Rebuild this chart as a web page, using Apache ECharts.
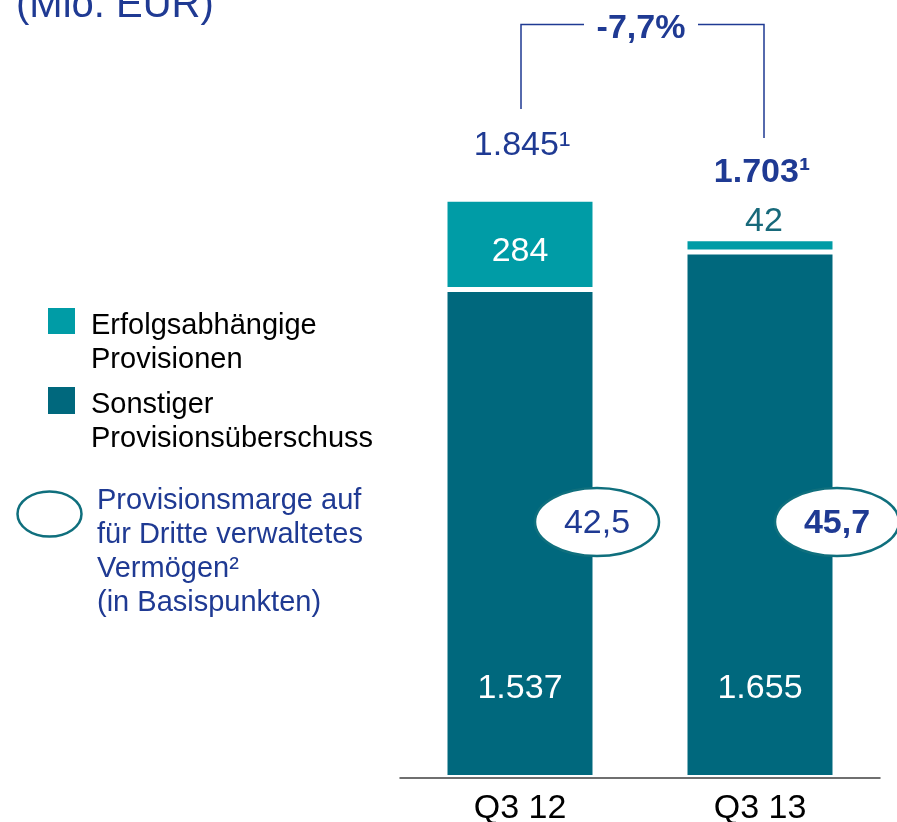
<!DOCTYPE html>
<html>
<head>
<meta charset="utf-8">
<script src="https://cdn.jsdelivr.net/npm/echarts@6/dist/echarts.min.js"></script>
<style>
html,body{margin:0;padding:0;background:#fff;}
#chart{width:897px;height:822px;}
</style>
</head>
<body>
<div id="chart"></div>
<script>
// ---- data ----
const categories = ['Q3 12', 'Q3 13'];
const seriesNames = ['Sonstiger Provisionsüberschuss', 'Erfolgsabhängige Provisionen'];
const sonstigerValues = [1537, 1655];
const erfolgsValues = [284, 42];
const totalValues = [1845, 1703];
const totalFootnote = '¹';
const marginValues = [42.5, 45.7];
const changeLabel = '-7,7%';
const unitLabel = '(Mio. EUR)';
const marginLegendLines = ['Provisionsmarge auf', 'für Dritte verwaltetes', 'Vermögen²', '(in Basispunkten)'];

// ---- style ----
const FONT = '"Liberation Sans", Arial, sans-serif';
const DARK = '#00687d';
const LIGHT = '#009ca6';
const BLUE = '#1f3a93';
const RING = '#0f6f7d';

const fmtInt = v => String(v).replace(/\B(?=(\d{3})+(?!\d))/g, '.');
const fmtDec = v => v.toFixed(1).replace('.', ',');

const chart = echarts.init(document.getElementById('chart'), null, {renderer: 'canvas'});

const option = {
  animation: false,
  backgroundColor: '#fff',
  grid: {left: 400, right: 17, top: 15.5, bottom: 44.5, containLabel: false, outerBoundsMode: 'none'},
  xAxis: {
    type: 'category',
    data: categories,
    z: 10,
    axisLine: {lineStyle: {color: '#404040', width: 1.5}},
    axisTick: {show: false},
    axisLabel: {fontFamily: FONT, fontSize: 34, color: '#000', margin: 14}
  },
  yAxis: {type: 'value', min: 0, max: 2400, show: false},
  series: [
    {
      name: seriesNames[0], type: 'bar', stack: 'total', barWidth: 150,
      data: sonstigerValues,
      itemStyle: {color: DARK, borderColor: '#fff', borderWidth: 2.5},
      label: {show: true, position: 'insideBottom', distance: 72, color: '#fff',
        fontFamily: FONT, fontSize: 34, formatter: p => fmtInt(p.value)}
    },
    {
      name: seriesNames[1], type: 'bar', stack: 'total', barWidth: 150,
      data: erfolgsValues.map((v, i) => i === 0
        ? {value: v, label: {position: 'inside', offset: [0, 7], color: '#fff'}}
        : {value: v, label: {position: 'top', distance: 0, offset: [4, 0], color: '#17697a'}}),
      itemStyle: {color: LIGHT, borderColor: '#fff', borderWidth: 2.5},
      label: {show: true, fontFamily: FONT, fontSize: 34, formatter: p => fmtInt(p.value)}
    }
  ]
};
chart.setOption(option);

// ---- annotations positioned from the axes ----
const cx = categories.map(c => chart.convertToPixel({xAxisIndex: 0}, c));
const halfBar = 75;
const totalY = [145.5, 173];
const g = [];

// unit label
g.push({type: 'text', left: 16, top: -14, style: {text: unitLabel, font: '40px ' + FONT, fill: BLUE}});

// totals
totalValues.forEach((v, i) => {
  g.push({type: 'text', x: cx[i] + 2, y: totalY[i],
    style: {text: fmtInt(v) + totalFootnote, font: (i === 1 ? 'bold ' : '') + '34px ' + FONT,
      fill: BLUE, align: 'center', verticalAlign: 'middle'}});
});

// change bracket
const bTop = 24.5;
g.push({type: 'polyline', shape: {points: [[cx[0] + 1, 109], [cx[0] + 1, bTop], [cx[0] + 64, bTop]]},
  style: {stroke: BLUE, lineWidth: 1.5, fill: null}});
g.push({type: 'polyline', shape: {points: [[cx[1] - 62, bTop], [cx[1] + 4, bTop], [cx[1] + 4, 138]]},
  style: {stroke: BLUE, lineWidth: 1.5, fill: null}});
g.push({type: 'text', x: (cx[0] + cx[1]) / 2 + 1, y: 29,
  style: {text: changeLabel, font: 'bold 34px ' + FONT, fill: BLUE, align: 'center', verticalAlign: 'middle'}});

// margin ellipses
marginValues.forEach((v, i) => {
  const ex = cx[i] + halfBar + 2;
  g.push({type: 'ellipse', shape: {cx: ex, cy: 522, rx: 62, ry: 34},
    style: {fill: '#fff', stroke: RING, lineWidth: 2.5}, z: 20});
  g.push({type: 'text', x: ex, y: 524, z: 21,
    style: {text: fmtDec(v), font: (i === 1 ? 'bold ' : '') + '34px ' + FONT, fill: BLUE,
      align: 'center', verticalAlign: 'middle'}});
});

// legend
g.push({type: 'rect', shape: {x: 48, y: 308, width: 27, height: 26}, style: {fill: LIGHT}});
g.push({type: 'text', x: 91, y: 309.3,
  style: {text: 'Erfolgsabhängige\nProvisionen', font: '29px ' + FONT, fill: '#000', lineHeight: 34}});
g.push({type: 'rect', shape: {x: 48, y: 387, width: 27, height: 27}, style: {fill: DARK}});
g.push({type: 'text', x: 91, y: 388.3,
  style: {text: 'Sonstiger\nProvisionsüberschuss', font: '29px ' + FONT, fill: '#000', lineHeight: 34}});
g.push({type: 'ellipse', shape: {cx: 49.5, cy: 514, rx: 32, ry: 22.5},
  style: {fill: '#fff', stroke: RING, lineWidth: 2.5}});
g.push({type: 'text', x: 97, y: 484.3,
  style: {text: marginLegendLines.join('\n'), font: '29px ' + FONT, fill: BLUE, lineHeight: 34}});

chart.setOption({graphic: {elements: g}});
</script>
</body>
</html>
